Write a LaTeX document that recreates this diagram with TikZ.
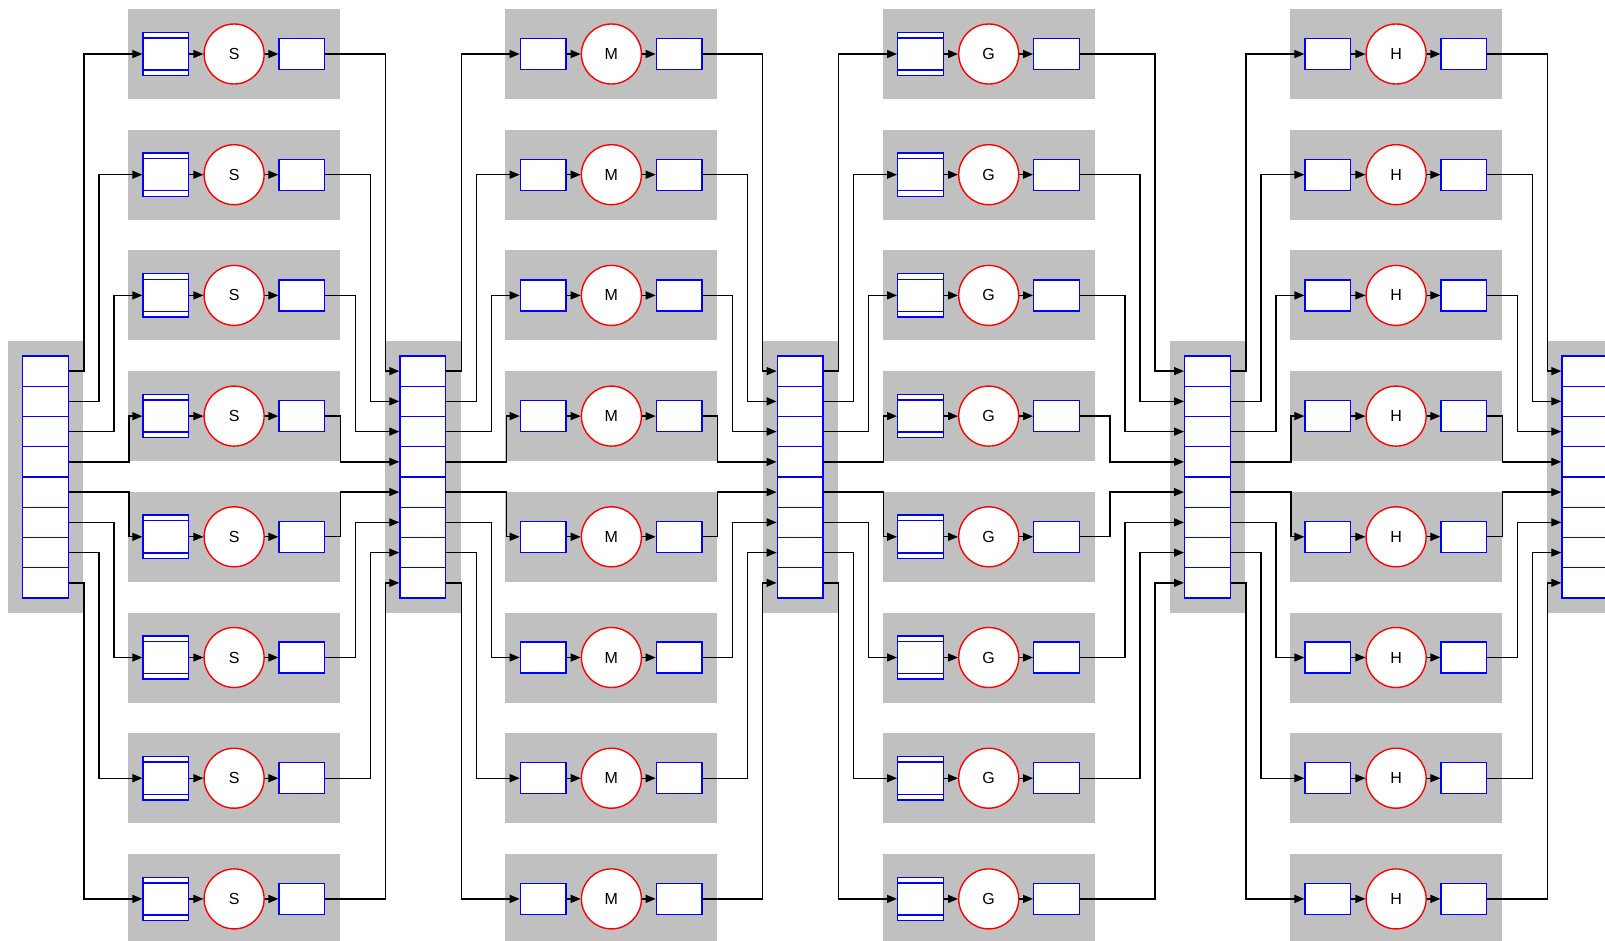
\documentclass[tikz,border=0pt]{standalone}
\usepackage{fontspec}
\setmainfont{Liberation Sans}
\usepackage{xcolor}
\usepackage{tikz}
\usetikzlibrary{calc,arrows.meta}
\definecolor{panelgray}{RGB}{192,192,192}

\begin{document}
\begin{tikzpicture}[
    x=1pt, y=-1pt,
    every node/.style={font=\fontsize{16}{19}\selectfont},
    cell/.style={rectangle, draw=blue, fill=white, line width=1.4pt, minimum width=45.6pt, minimum height=30.25pt, inner sep=0pt},
    buf/.style={rectangle, draw=blue, fill=white, line width=1.4pt, minimum width=45.6pt, minimum height=31pt, inner sep=0pt},
    dbuf/.style={buf, minimum height=43.3pt, path picture={
        \draw[blue, line width=1.4pt]
          ([yshift=-5.6pt]path picture bounding box.north west) -- ([yshift=-5.6pt]path picture bounding box.north east)
          ([yshift=5.6pt]path picture bounding box.south west) -- ([yshift=5.6pt]path picture bounding box.south east);}},
    proc/.style={circle, draw=red, fill=white, line width=1.4pt, minimum size=60pt, inner sep=0pt},
    arrow/.style={-{Triangle[length=10pt,width=8pt]}, line width=1.3pt},
    panel/.style={fill=panelgray},
]
\clip (0,0) rectangle (1605,940);

% queues between the stages
\foreach \n/\ax in {1/22.7, 2/400, 3/777.3, 4/1184.7, 5/1562} {
  \fill[panel] (\ax-14.7,341) rectangle (\ax+60.6,613);
  \foreach \i in {0,...,7}
    \node[cell] (a\n-\i) at (\ax+22.8, 371.1+30.25*\i) {};
}

% worker rows
\foreach \s/\gx/\lab/\inbox in {1/128.1/S/dbuf, 2/505.4/M/buf, 3/882.7/G/dbuf, 4/1290.1/H/buf}
  \foreach \i in {0,...,7} {
    \fill[panel] (\gx, 9+120.7*\i) rectangle ++(212,90);
    \node[\inbox] (in\s-\i) at (\gx+37.8, 54+120.7*\i) {};
    \node[proc] (pr\s-\i) at (\gx+106, 54+120.7*\i) {\lab};
    \node[buf] (out\s-\i) at (\gx+173.8, 54+120.7*\i) {};
  }

% fan out and fan in
\foreach \s/\nx/\extra in {1/2/0, 2/3/0, 3/4/15, 4/5/0}
  \foreach \i/\k in {0/1, 1/2, 2/3, 3/4, 4/4, 5/3, 6/2, 7/1} {
    \draw[arrow] (a\s-\i.east) -- ++(15*\k,0) |- (in\s-\i.west);
    \draw[arrow] (in\s-\i) -- (pr\s-\i);
    \draw[arrow] (pr\s-\i) -- (out\s-\i);
    \draw[arrow] (out\s-\i.east) -- ++(75-15*\k+\extra,0) |- (a\nx-\i.west);
  }
\end{tikzpicture}
\end{document}
